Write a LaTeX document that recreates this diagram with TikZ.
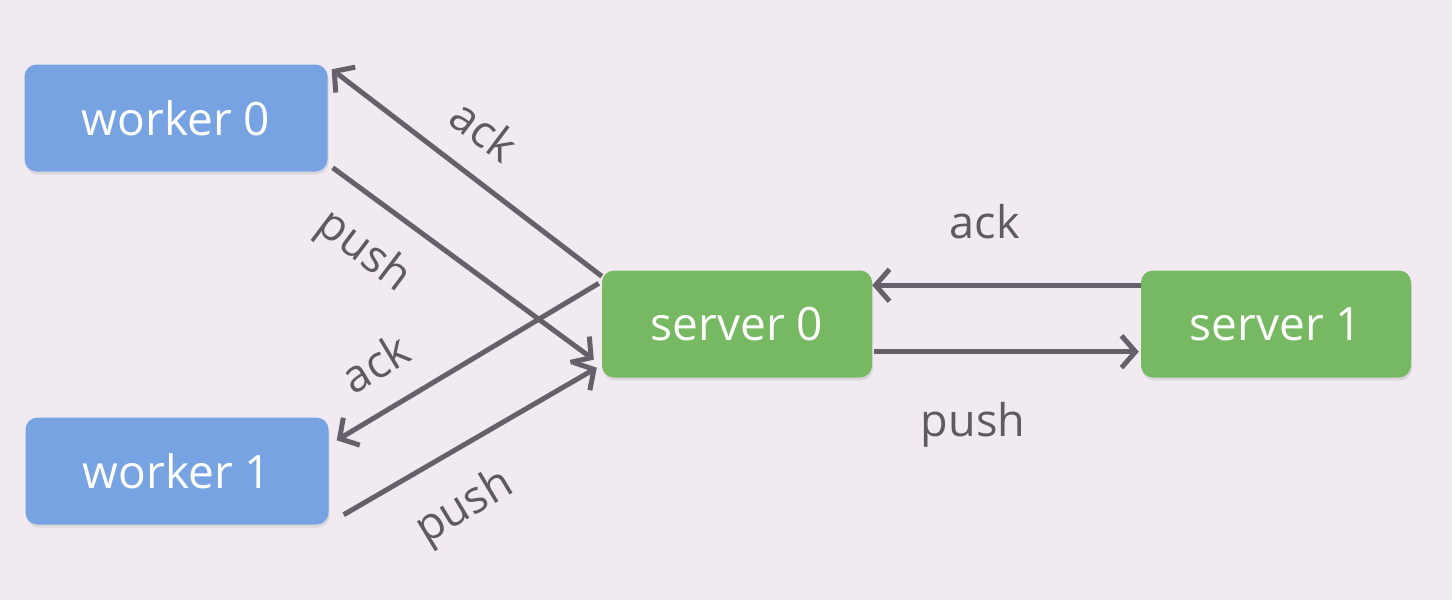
\documentclass[tikz,border=0pt]{standalone}
\usepackage{fontspec}
\setmainfont{Open Sans}
\usetikzlibrary{arrows.meta,shadows}
\definecolor{bgcol}{RGB}{241,235,241}
\definecolor{workerblue}{RGB}{119,163,227}
\definecolor{servergreen}{RGB}{119,185,98}
\definecolor{arrowgray}{RGB}{103,96,106}
\definecolor{labelgray}{RGB}{95,90,98}
\tikzset{
  box/.style={rounded corners=12pt, minimum height=107pt, text=white,
    font=\fontsize{46}{52}\selectfont,
    drop shadow={opacity=0.18, shadow xshift=1pt, shadow yshift=-3pt}},
  worker/.style={box, fill=workerblue, minimum width=303pt},
  server/.style={box, fill=servergreen, minimum width=270pt},
  link/.style={draw=arrowgray, line width=5pt, -{Straight Barb[length=14pt,width=32pt]}},
  lbl/.style={text=labelgray, font=\fontsize{45}{50}\selectfont},
}
\begin{document}
\begin{tikzpicture}[x=1pt,y=-1pt]
\fill [bgcol] (0,0) rectangle (1452,600);
\useasboundingbox (0,0) rectangle (1452,600);
\node [worker] (w0) at (176,118) {worker 0};
\node [worker] (w1) at (177,471) {worker 1};
\node [server] (s0) at (737,324) {server 0};
\node [server] (s1) at (1276,324) {server 1};
% worker <-> server 0
\draw [link] ([yshift=-6pt]s0.north west) -- ([shift={(4pt,-5pt)}]w0.north east);
\draw [link] ([shift={(5pt,4pt)}]w0.south east) -- ([shift={(-8pt,18pt)}]s0.south west);
\draw [link] ([shift={(-3pt,-13pt)}]s0.north west) -- ([shift={(8pt,-23pt)}]w1.north east);
\draw [link] ([shift={(15pt,10pt)}]w1.south east) -- ([shift={(-5pt,10pt)}]s0.south west);
% server 0 <-> server 1
\draw [link] ([yshift=-15pt]s1.north west) -- ([yshift=-15pt]s0.north east);
\draw [link] ([shift={(2pt,26pt)}]s0.south east) -- ([shift={(-2pt,26pt)}]s1.south west);
% labels
\node [lbl, rotate=-37] (ack0) at (485,130) {ack};
\node [lbl, rotate=-37] (push0) at (363,252) {push};
\node [lbl, rotate=31] (ack1) at (375,363) {ack};
\node [lbl, rotate=31] (push1) at (465,508) {push};
\node [lbl] (ack2) at (985,222) {ack};
\node [lbl] (push2) at (973,425) {push};
\end{tikzpicture}
\end{document}
